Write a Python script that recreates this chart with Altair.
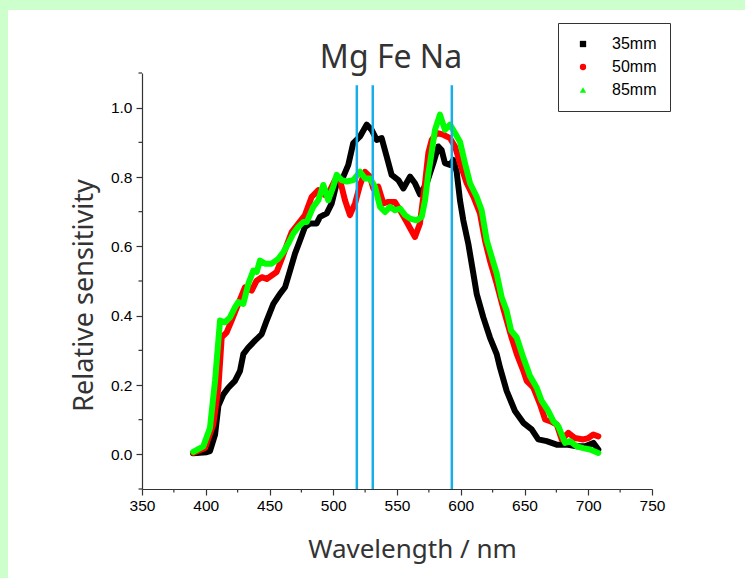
import altair as alt
import pandas as pd

# ---------------- data ----------------
SERIES = ["35mm", "50mm", "85mm"]
COLORS = ["#000000", "#ff0000", "#00ff00"]
SHAPES = ["square", "circle", "triangle-up"]

WL_35 = [390.0, 400.7, 403.3, 407.3, 409.9, 413.8, 417.7, 422.9, 426.9, 429.5, 433.4, 438.6,
         443.9, 447.8, 453.0, 458.2, 462.2, 466.1, 470.0, 473.9, 477.8, 481.8, 487.0, 489.6,
         494.9, 498.8, 502.7, 507.9, 511.8, 515.7, 521.0, 526.2, 530.1, 534.1, 538.0, 541.9,
         545.8, 551.1, 555.0, 560.2, 564.1, 568.0, 573.3, 578.5, 582.4, 585.0, 587.6, 591.6,
         594.2, 596.8, 599.4, 602.0, 605.9, 609.9, 612.5, 617.7, 622.9, 628.2, 630.8, 636.0,
         642.5, 649.1, 655.6, 660.8, 667.4, 675.2, 683.1, 690.9, 697.5, 704.0, 707.9]
V_35 = [0.003, 0.006, 0.009, 0.057, 0.140, 0.173, 0.192, 0.212, 0.241, 0.289, 0.308, 0.328,
        0.347, 0.386, 0.434, 0.463, 0.482, 0.530, 0.579, 0.617, 0.656, 0.666, 0.666, 0.685,
        0.695, 0.724, 0.782, 0.801, 0.835, 0.898, 0.917, 0.951, 0.936, 0.907, 0.912, 0.859,
        0.806, 0.791, 0.767, 0.801, 0.782, 0.750, 0.782, 0.840, 0.888, 0.878, 0.840, 0.835,
        0.849, 0.815, 0.733, 0.675, 0.608, 0.521, 0.463, 0.395, 0.337, 0.289, 0.250, 0.183,
        0.125, 0.091, 0.072, 0.043, 0.038, 0.028, 0.028, 0.023, 0.023, 0.033, 0.014]

WL_50 = [390.2, 399.4, 405.9, 409.9, 412.5, 416.4, 420.3, 425.5, 430.8, 436.0, 439.9, 443.9,
         447.8, 451.7, 455.6, 459.6, 463.5, 467.4, 472.6, 477.8, 483.1, 488.3, 493.5, 497.5,
         501.4, 505.3, 509.2, 513.1, 517.1, 521.0, 524.9, 528.8, 531.4, 535.3, 539.3, 543.2,
         548.4, 552.4, 557.6, 564.1, 568.0, 572.0, 574.6, 577.2, 581.1, 586.3, 591.6, 595.5,
         599.4, 604.7, 609.9, 615.1, 619.0, 622.9, 628.2, 633.4, 640.0, 643.9, 649.1, 651.7,
         657.0, 662.2, 666.1, 670.0, 675.3, 679.2, 684.4, 689.6, 696.1, 700.1, 704.0, 707.9]
V_50 = [0.004, 0.018, 0.086, 0.192, 0.337, 0.352, 0.386, 0.434, 0.482, 0.472, 0.501, 0.511,
        0.506, 0.516, 0.526, 0.564, 0.603, 0.641, 0.666, 0.690, 0.743, 0.762, 0.748, 0.762,
        0.791, 0.791, 0.733, 0.690, 0.724, 0.777, 0.815, 0.801, 0.767, 0.772, 0.724, 0.728,
        0.728, 0.704, 0.670, 0.627, 0.666, 0.782, 0.870, 0.907, 0.927, 0.922, 0.912, 0.888,
        0.840, 0.782, 0.743, 0.695, 0.617, 0.559, 0.492, 0.420, 0.335, 0.290, 0.241, 0.212,
        0.192, 0.144, 0.101, 0.096, 0.086, 0.043, 0.062, 0.047, 0.043, 0.047, 0.057, 0.052]

WL_85 = [390.2, 398.1, 403.3, 407.3, 411.2, 415.1, 419.0, 422.9, 425.5, 429.5, 433.4, 437.3,
         440.0, 442.5, 446.5, 451.7, 456.9, 460.8, 464.7, 468.7, 472.6, 476.5, 479.2, 484.3,
         488.3, 492.2, 496.1, 500.0, 502.7, 506.6, 510.5, 515.7, 521.0, 524.9, 528.8, 532.7,
         536.7, 540.6, 544.5, 548.4, 552.4, 556.3, 560.2, 565.5, 569.4, 572.0, 574.6, 575.9,
         579.8, 583.7, 587.6, 591.6, 595.5, 599.4, 603.3, 607.3, 612.5, 616.4, 620.4, 624.3,
         628.2, 632.1, 636.0, 639.5, 643.9, 649.1, 654.3, 659.6, 663.5, 668.7, 672.6, 676.5,
         681.8, 685.7, 691.0, 696.1, 701.4, 707.9]
V_85 = [0.007, 0.023, 0.076, 0.212, 0.386, 0.381, 0.395, 0.424, 0.439, 0.434, 0.492, 0.530,
        0.526, 0.559, 0.550, 0.550, 0.564, 0.583, 0.608, 0.637, 0.656, 0.670, 0.670, 0.714,
        0.733, 0.777, 0.733, 0.772, 0.806, 0.791, 0.787, 0.791, 0.815, 0.796, 0.796, 0.772,
        0.714, 0.699, 0.714, 0.704, 0.709, 0.690, 0.680, 0.675, 0.685, 0.733, 0.811, 0.840,
        0.936, 0.980, 0.936, 0.951, 0.927, 0.902, 0.840, 0.782, 0.743, 0.704, 0.617, 0.569,
        0.521, 0.453, 0.414, 0.357, 0.337, 0.279, 0.226, 0.192, 0.154, 0.125, 0.096, 0.081,
        0.033, 0.038, 0.023, 0.018, 0.014, 0.004]

LINE_NAMES = ["Mg", "Fe", "Na"]
LINE_WL = [518.5, 531.0, 593.0]
LINE_TOP = 1.065
HEADER = "Mg Fe Na"

X_MAJOR = [350, 400, 450, 500, 550, 600, 650, 700, 750]
X_MINOR = [375, 425, 475, 525, 575, 625, 675, 725]
Y_MAJOR = [0.0, 0.2, 0.4, 0.6, 0.8, 1.0]
Y_MINOR = [-0.1, 0.1, 0.3, 0.5, 0.7, 0.9, 1.1]
X_DOMAIN = [350, 750]
Y_DOMAIN = [-0.1, 1.1]

# ---------------- tables ----------------
rows = []
for name, wls, vals in zip(SERIES, [WL_35, WL_50, WL_85], [V_35, V_50, V_85]):
    for i, (w, v) in enumerate(zip(wls, vals)):
        rows.append({"series": name, "wl": w, "v": v, "i": i})
df = pd.DataFrame(rows)

rules = pd.DataFrame({"name": LINE_NAMES, "wl": LINE_WL,
                      "top": [LINE_TOP] * 3, "bottom": [Y_DOMAIN[0]] * 3})
bg = pd.DataFrame({"k": [0]})
header = pd.DataFrame({"text": [HEADER]})
xminor = pd.DataFrame({"wl": X_MINOR})
yminor = pd.DataFrame({"v": Y_MINOR})

W, H = 510, 416
LABEL_FONT = "Liberation Sans"
TITLE_FONT = "Noto Sans"
DARK = "#333333"
MAJOR_TICK = 6
MINOR_TICK = 3.5

x_scale = alt.Scale(domain=X_DOMAIN, nice=False, zero=False)
y_scale = alt.Scale(domain=Y_DOMAIN, nice=False, zero=False)

x_axis = alt.Axis(
    values=X_MAJOR, grid=False, title="Wavelength / nm", zindex=2,
    labelFont=LABEL_FONT, labelFontSize=15.5, labelColor="black", labelPadding=3,
    labelFlush=False, labelOverlap=False,
    tickSize=MAJOR_TICK, tickColor=DARK, domainColor=DARK, domainWidth=1.2, tickWidth=1.2,
    titleFont=TITLE_FONT, titleFontSize=26, titleFontWeight="normal", titleColor=DARK,
    titleX=270, titleY=68, titleAlign="center", titleBaseline="alphabetic",
)
y_axis = alt.Axis(
    values=Y_MAJOR, grid=False, title="Relative sensitivity", format=".1f", zindex=2,
    labelFont=LABEL_FONT, labelFontSize=15.5, labelColor="black", labelPadding=4,
    labelFlush=False, labelOverlap=False,
    tickSize=MAJOR_TICK, tickColor=DARK, domainColor=DARK, domainWidth=1.2, tickWidth=1.2,
    titleFont=TITLE_FONT, titleFontSize=27, titleFontWeight="normal", titleColor=DARK,
    titleX=-58, titleY=222, titleAlign="center", titleBaseline="middle", titleAngle=-90,
)

legend = alt.Legend(
    title=None, orient="none", legendX=416, legendY=-50, padding=13,
    symbolSize=40, symbolOffset=4, labelOffset=21, labelFontSize=16,
    labelFont=LABEL_FONT, labelColor="black", rowPadding=7,
    strokeColor=DARK, fillColor="white", symbolStrokeWidth=0, zindex=3,
)

background = alt.Chart(bg).mark_rect(color="white").encode(
    x=alt.value(-134), x2=alt.value(W + 100), y=alt.value(-63), y2=alt.value(H + 100)
)

title_text = alt.Chart(header).mark_text(
    font=TITLE_FONT, fontSize=32, color=DARK, align="center", baseline="alphabetic"
).encode(text="text:N", x=alt.value(249), y=alt.value(-5))

x_minor_ticks = alt.Chart(xminor).mark_rule(color=DARK, strokeWidth=1.2).encode(
    x=alt.X("wl:Q", scale=x_scale), y=alt.value(H), y2=alt.value(H + MINOR_TICK)
)
y_minor_ticks = alt.Chart(yminor).mark_rule(color=DARK, strokeWidth=1.2).encode(
    y=alt.Y("v:Q", scale=y_scale), x=alt.value(0), x2=alt.value(-MINOR_TICK)
)

points = alt.Chart(df).mark_point(filled=True, size=12, opacity=1).encode(
    x=alt.X("wl:Q", scale=x_scale, axis=x_axis),
    y=alt.Y("v:Q", scale=y_scale, axis=y_axis),
    color=alt.Color("series:N", scale=alt.Scale(domain=SERIES, range=COLORS), legend=legend),
    shape=alt.Shape("series:N", scale=alt.Scale(domain=SERIES, range=SHAPES), legend=legend),
)

lines = alt.Chart(df).mark_line(strokeWidth=6, strokeJoin="round", strokeCap="round").encode(
    x=alt.X("wl:Q", scale=x_scale),
    y=alt.Y("v:Q", scale=y_scale),
    stroke=alt.Stroke("series:N", scale=alt.Scale(domain=SERIES, range=COLORS), legend=None),
    order="i:Q",
)

element_lines = alt.Chart(rules).mark_rule(color="#19aee8", strokeWidth=2.5).encode(
    x=alt.X("wl:Q", scale=x_scale),
    y=alt.Y("top:Q", scale=y_scale),
    y2="bottom:Q",
)

chart = alt.layer(background, title_text, x_minor_ticks, y_minor_ticks,
                  points, lines, element_lines).properties(
    width=W, height=H,
    autosize=alt.AutoSizeParams(type="none"),
    padding={"left": 142, "top": 73, "right": 93, "bottom": 89},
    background="#ccffcc",
).configure_view(stroke=None)

chart.save("out.html", embed_options={"renderer": "svg", "actions": False})
